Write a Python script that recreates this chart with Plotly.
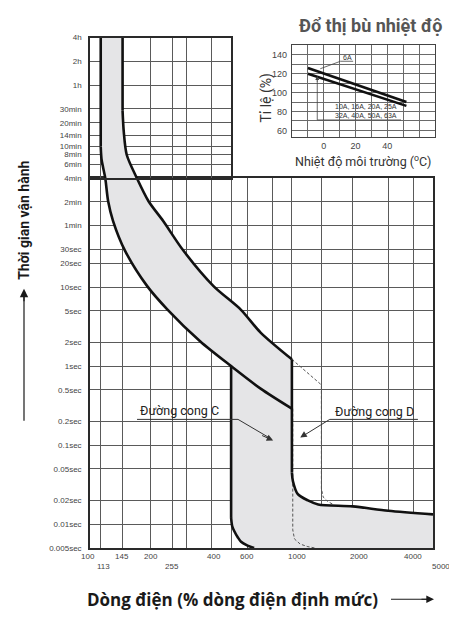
import numpy as np
import plotly.graph_objects as go

W, H = 449, 621

# ---------------- data ----------------
# time ticks (seconds) and labels
t_vals = [14400, 7200, 3600, 1800, 1200, 840, 600, 480, 360, 240, 120, 60,
          30, 20, 10, 5, 2, 1, 0.5, 0.2, 0.1, 0.05, 0.02, 0.01, 0.005]
t_text = ["4h", "2h", "1h", "30min", "20min", "14min", "10min", "8min", "6min",
          "4min", "2min", "1min", "30sec", "20sec", "10sec", "5sec", "2sec",
          "1sec", "0.5sec", "0.2sec", "0.1sec", "0.05sec", "0.02sec", "0.01sec",
          "0.005sec"]
split_t = 240  # 4min: upper block stops at 500 %

# current grid (% of rated current)
i_grid = [113, 145, 200, 255, 300, 400, 500, 600, 800, 1000, 1400, 2000, 3000, 4000]
i_labels = [100, 113, 145, 200, 255, 400, 600, 1000, 2000, 4000, 5000]

# curve C - lower (no-trip) thermal limit
low_vert_i = [113, 113]
low_vert_t = [14400, 600]
low_i = [113, 114, 116, 119, 123, 130, 149, 192, 242, 352, 500, 700, 1000]
low_t = [600, 420, 330, 240, 122, 69, 29, 10.3, 5.2, 2.05, 1.0, 0.52, 0.29]

# curve C - lower magnetic limit (5 In)
mag_vert_i = [500, 500]
mag_vert_t = [1.0, 0.012]
mag_low_i = [500, 506, 518, 540, 560, 600, 650]
mag_low_t = [0.012, 0.0095, 0.0082, 0.0068, 0.006, 0.0054, 0.005]

# curve C - upper (trip) thermal limit
up_vert_i = [145, 145]
up_vert_t = [14400, 1700]
up_i = [145, 147, 152, 171, 195, 230, 290, 409, 558, 700, 1000]
up_t = [1700, 920, 473, 237, 122, 69, 29, 10.3, 5.2, 2.66, 1.22]

# curve C - upper magnetic limit (10 In) and instantaneous tail
inst_vert_i = [1000, 1000]
inst_vert_t = [1.22, 0.045]
tail_i = [1000, 1012, 1070, 1200, 1350, 2000, 3000, 5000]
tail_t = [0.045, 0.035, 0.024, 0.020, 0.0178, 0.0168, 0.0148, 0.0133]

# curve D - dashed extensions
d_up_i = [1000, 1400, 1400, 1430, 1500, 1600]
d_up_t = [1.22, 0.58, 0.028, 0.022, 0.0195, 0.0178]
d_low_i = [1010, 1010, 1030, 1100, 1200, 1300]
d_low_t = [0.29, 0.0085, 0.0065, 0.0056, 0.0052, 0.005]

# temperature compensation inset
temp_ticks = [0, 20, 40]
ratio_ticks = [60, 80, 100, 120, 140]
line_6a_temp = [-10, 52]
line_6a_ratio = [126, 90]
line_other_temp = [-10, 52]
line_other_ratio = [120, 86]

# ---------------- layout geometry (pixels) ----------------
px_left, px_right = 90, 433
px_top, px_bottom = 34, 552
x_lo, x_hi = 100, 5000
t_lo, t_hi = 0.005, 14400
ppd_x = (px_right - px_left) / np.log10(x_hi / x_lo)
ppd_y = (px_bottom - px_top) / np.log10(t_hi / t_lo)
px_split_x = px_left + ppd_x * np.log10(500 / x_lo)
px_split_y = px_top + ppd_y * np.log10(t_hi / split_t)


def fx(p):
    return p / W


def fy(p):
    return 1 - p / H


GRID = "#5a5a5a"
FRAME = "#2a2a2a"
CURVE = "#111111"
FILL = "#e5e5e7"
TICKC = "#444444"
FONT = "Roboto"

fig = go.Figure()

# shaded band of curve C (between no-trip and trip limits)
k = low_i.index(500)
band_i = (up_vert_i + up_i[1:] + inst_vert_i[1:] + tail_i[1:] + [5000]
          + mag_low_i[::-1] + mag_vert_i[::-1][1:] + low_i[:k][::-1] + low_vert_i[::-1])
band_t = (up_vert_t + up_t[1:] + inst_vert_t[1:] + tail_t[1:] + [0.005]
          + mag_low_t[::-1] + mag_vert_t[::-1][1:] + low_t[:k][::-1] + low_vert_t[::-1])

for xa, ya in (("x", "y"), ("x2", "y2")):
    fig.add_trace(go.Scatter(x=band_i, y=band_t, xaxis=xa, yaxis=ya, mode="lines",
                             fill="toself", fillcolor=FILL, line=dict(width=0),
                             hoverinfo="skip", showlegend=False))

# dashed curve D
for xs, ys in ((d_up_i, d_up_t), (d_low_i, d_low_t)):
    fig.add_trace(go.Scatter(x=xs, y=ys, xaxis="x", yaxis="y", mode="lines",
                             line=dict(color="#555555", width=1, dash="3px,2px"),
                             showlegend=False, hoverinfo="skip"))

# solid curve C: straight pieces and smooth pieces
straight = [(low_vert_i, low_vert_t), (up_vert_i, up_vert_t),
            (inst_vert_i, inst_vert_t), (mag_vert_i, mag_vert_t)]
smooth = [(low_i, low_t), (up_i, up_t), (tail_i, tail_t), (mag_low_i, mag_low_t)]
for group, shape in ((straight, "linear"), (smooth, "spline")):
    for xs, ys in group:
        for xa, ya in (("x", "y"), ("x2", "y2")):
            fig.add_trace(go.Scatter(x=xs, y=ys, xaxis=xa, yaxis=ya, mode="lines",
                                     line=dict(color=CURVE, width=2.6, shape=shape,
                                               smoothing=0.8),
                                     showlegend=False, hoverinfo="skip"))

# labels "Đường cong C / D": underline and leader
c_lead_i = [171, 541, 790]
c_lead_t = [0.212, 0.212, 0.12]
d_lead_i = [4210, 1540, 1130]
d_lead_t = [0.212, 0.212, 0.13]
for xs, ys in ((c_lead_i, c_lead_t), (d_lead_i, d_lead_t)):
    fig.add_trace(go.Scatter(x=xs, y=ys, xaxis="x", yaxis="y", mode="lines",
                             line=dict(color="#333333", width=1),
                             showlegend=False, hoverinfo="skip"))

# inset lines
fig.add_trace(go.Scatter(x=line_6a_temp, y=line_6a_ratio, xaxis="x3", yaxis="y3",
                         mode="lines", line=dict(color=CURVE, width=2.6),
                         showlegend=False, hoverinfo="skip"))
fig.add_trace(go.Scatter(x=line_other_temp, y=line_other_ratio, xaxis="x3", yaxis="y3",
                         mode="lines", line=dict(color=CURVE, width=2.6),
                         showlegend=False, hoverinfo="skip"))
fig.add_trace(go.Scatter(x=[-2.2, 10.5, 18.5], y=[125.3, 133.2, 133.2],
                         xaxis="x3", yaxis="y3", mode="lines",
                         line=dict(color="#444444", width=0.8),
                         showlegend=False, hoverinfo="skip"))
fig.add_trace(go.Scatter(x=[-4.1, -4.1, 48.6], y=[113, 71.1, 71.1],
                         xaxis="x3", yaxis="y3", mode="lines",
                         line=dict(color="#444444", width=0.8),
                         showlegend=False, hoverinfo="skip"))

axis_common = dict(showline=True, linecolor=FRAME, linewidth=1.6, mirror=True,
                   ticks="", zeroline=False, gridcolor=GRID, gridwidth=1.3)
inset_common = dict(showline=True, linecolor="#444444", linewidth=1.2, mirror=True,
                    ticks="", zeroline=False, gridcolor="#6a6a6a", gridwidth=1,
                    tickfont=dict(family="Liberation Sans", size=9, color=TICKC),
                    minor=dict(dtick=10, showgrid=True, gridcolor="#6a6a6a",
                               gridwidth=1))

lower_t = [v for v in t_vals if v <= split_t]
upper_t = [v for v in t_vals if v > split_t]
lower_txt = [s for v, s in zip(t_vals, t_text) if v <= split_t]
upper_txt = [s for v, s in zip(t_vals, t_text) if v > split_t]
tick_font = dict(family="Liberation Sans", size=8, color=TICKC)

fig.update_layout(
    width=W, height=H, margin=dict(l=0, r=0, t=0, b=0),
    paper_bgcolor="white", plot_bgcolor="rgba(0,0,0,0)",
    showlegend=False,
    xaxis=dict(type="log", domain=[fx(px_left), fx(px_right)],
               range=[np.log10(x_lo), np.log10(x_hi)], anchor="y",
               tickvals=i_grid, showticklabels=False, **axis_common),
    yaxis=dict(type="log", domain=[fy(px_bottom), fy(px_split_y)],
               range=[np.log10(t_lo), np.log10(split_t)], anchor="x",
               tickvals=lower_t, ticktext=lower_txt, ticklabelstandoff=5,
               tickfont=tick_font, **axis_common),
    xaxis2=dict(type="log", domain=[fx(px_left), fx(px_split_x)],
                range=[np.log10(x_lo), np.log10(500)], anchor="y2",
                tickvals=[v for v in i_grid if v < 500], showticklabels=False,
                **axis_common),
    yaxis2=dict(type="log", domain=[fy(px_split_y), fy(px_top)],
                range=[np.log10(split_t), np.log10(t_hi)], anchor="x2",
                tickvals=upper_t, ticktext=upper_txt, ticklabelstandoff=5,
                tickfont=tick_font, **axis_common),
    xaxis3=dict(domain=[fx(292), fx(435)], range=[-20, 70], anchor="y3",
                tickvals=temp_ticks, **inset_common),
    yaxis3=dict(domain=[fy(135), fy(42)], range=[53, 150], anchor="x3",
                tickvals=ratio_ticks, ticklabelstandoff=2, **inset_common),
)

ann = []
# x tick labels (some staggered one row lower)
low_row = {113, 255, 5000}
shift = {100: -2, 113: 3, 145: -1, 400: 2, 1000: 5, 2000: 6, 4000: 0, 5000: 8}
for v in i_labels:
    ypx = 571 if v in low_row else 561
    ann.append(dict(x=np.log10(v), xref="x", y=fy(ypx), yref="paper", text=str(v),
                    showarrow=False, xanchor="center", yanchor="middle",
                    xshift=shift.get(v, 0), font=tick_font))

# curve name labels
for txt, xv, tv in (("Đường cong C", 279, 0.272), ("Đường cong D", 2560, 0.265)):
    ann.append(dict(x=np.log10(xv), xref="x", y=np.log10(tv), yref="y", text=txt,
                    showarrow=False, xanchor="center", yanchor="middle",
                    font=dict(family=FONT, size=12.5, color="#222222")))
for tip, tail in (((808, 0.115), (700, 0.135)), ((1100, 0.125), (1180, 0.14))):
    ann.append(dict(x=np.log10(tip[0]), y=np.log10(tip[1]), xref="x", yref="y",
                    ax=np.log10(tail[0]), ay=np.log10(tail[1]), axref="x", ayref="y",
                    text="", showarrow=True, arrowhead=2, arrowsize=1.3,
                    arrowwidth=1, arrowcolor="#333333"))

# axis titles
ann.append(dict(x=fx(24), y=fy(220), xref="paper", yref="paper",
                xanchor="center", yanchor="middle",
                text="<b>Thời gian vận hành</b>", textangle=-90, showarrow=False,
                font=dict(family=FONT, size=14, color="#1a1a1a")))
ann.append(dict(x=fx(85), y=fy(604), xref="paper", yref="paper", xanchor="left",
                yanchor="middle", text="<b>Dòng điện (% dòng điện định mức)</b>",
                showarrow=False,
                font=dict(family="Open Sans", size=17, color="#1a1a1a")))
ann.append(dict(x=fx(24), y=fy(289), xref="paper", yref="paper", text="",
                showarrow=True, ax=0, ay=14, arrowhead=2, arrowsize=1.4,
                arrowwidth=1.2, arrowcolor="#1a1a1a"))
ann.append(dict(x=fx(434), y=fy(604), xref="paper", yref="paper", text="",
                showarrow=True, ax=-14, ay=0, arrowhead=2, arrowsize=1.4,
                arrowwidth=1.1, arrowcolor="#1a1a1a"))
shapes = [
    dict(type="line", xref="paper", yref="paper", x0=fx(24), x1=fx(24),
         y0=fy(423), y1=fy(295), line=dict(color="#1a1a1a", width=1.2)),
    dict(type="line", xref="paper", yref="paper", x0=fx(391), x1=fx(428),
         y0=fy(604), y1=fy(604), line=dict(color="#1a1a1a", width=1.1)),
]

# inset texts
ann.append(dict(x=fx(370), y=fy(22), xref="paper", yref="paper",
                xanchor="center", yanchor="middle",
                text="<b>Đổ thị bù nhiệt độ</b>", showarrow=False,
                font=dict(family=FONT, size=18, color="#555555")))
ann.append(dict(x=fx(267), y=fy(95), xref="paper", yref="paper",
                xanchor="center", yanchor="middle",
                text="Tỉ lệ (%)", textangle=-90, showarrow=False,
                font=dict(family=FONT, size=14, color="#333333")))
ann.append(dict(x=fx(363), y=fy(159), xref="paper", yref="paper",
                xanchor="center", yanchor="middle",
                text="Nhiệt độ môi trường (<sup>o</sup>C)", showarrow=False,
                font=dict(family=FONT, size=12.5, color="#333333")))
ann.append(dict(x=15, y=137.5, xref="x3", yref="y3", text="6A", showarrow=False,
                xanchor="center", yanchor="middle",
                font=dict(family="Liberation Sans", size=7, color="#333333")))
ann.append(dict(x=26.5, y=80.5, xref="x3", yref="y3",
                text="10A, 16A, 20A, 25A<br>32A, 40A, 50A, 63A", showarrow=False,
                align="left", xanchor="center", yanchor="middle",
                font=dict(family="Liberation Sans", size=7, color="#333333")))
ann.append(dict(x=-4.1, y=117.5, xref="x3", yref="y3", ax=-4.1, ay=110,
                axref="x3", ayref="y3", text="", showarrow=True, arrowhead=2,
                arrowsize=1, arrowwidth=0.8, arrowcolor="#444444"))

fig.update_layout(annotations=ann, shapes=shapes)
fig.write_html("out.html")
